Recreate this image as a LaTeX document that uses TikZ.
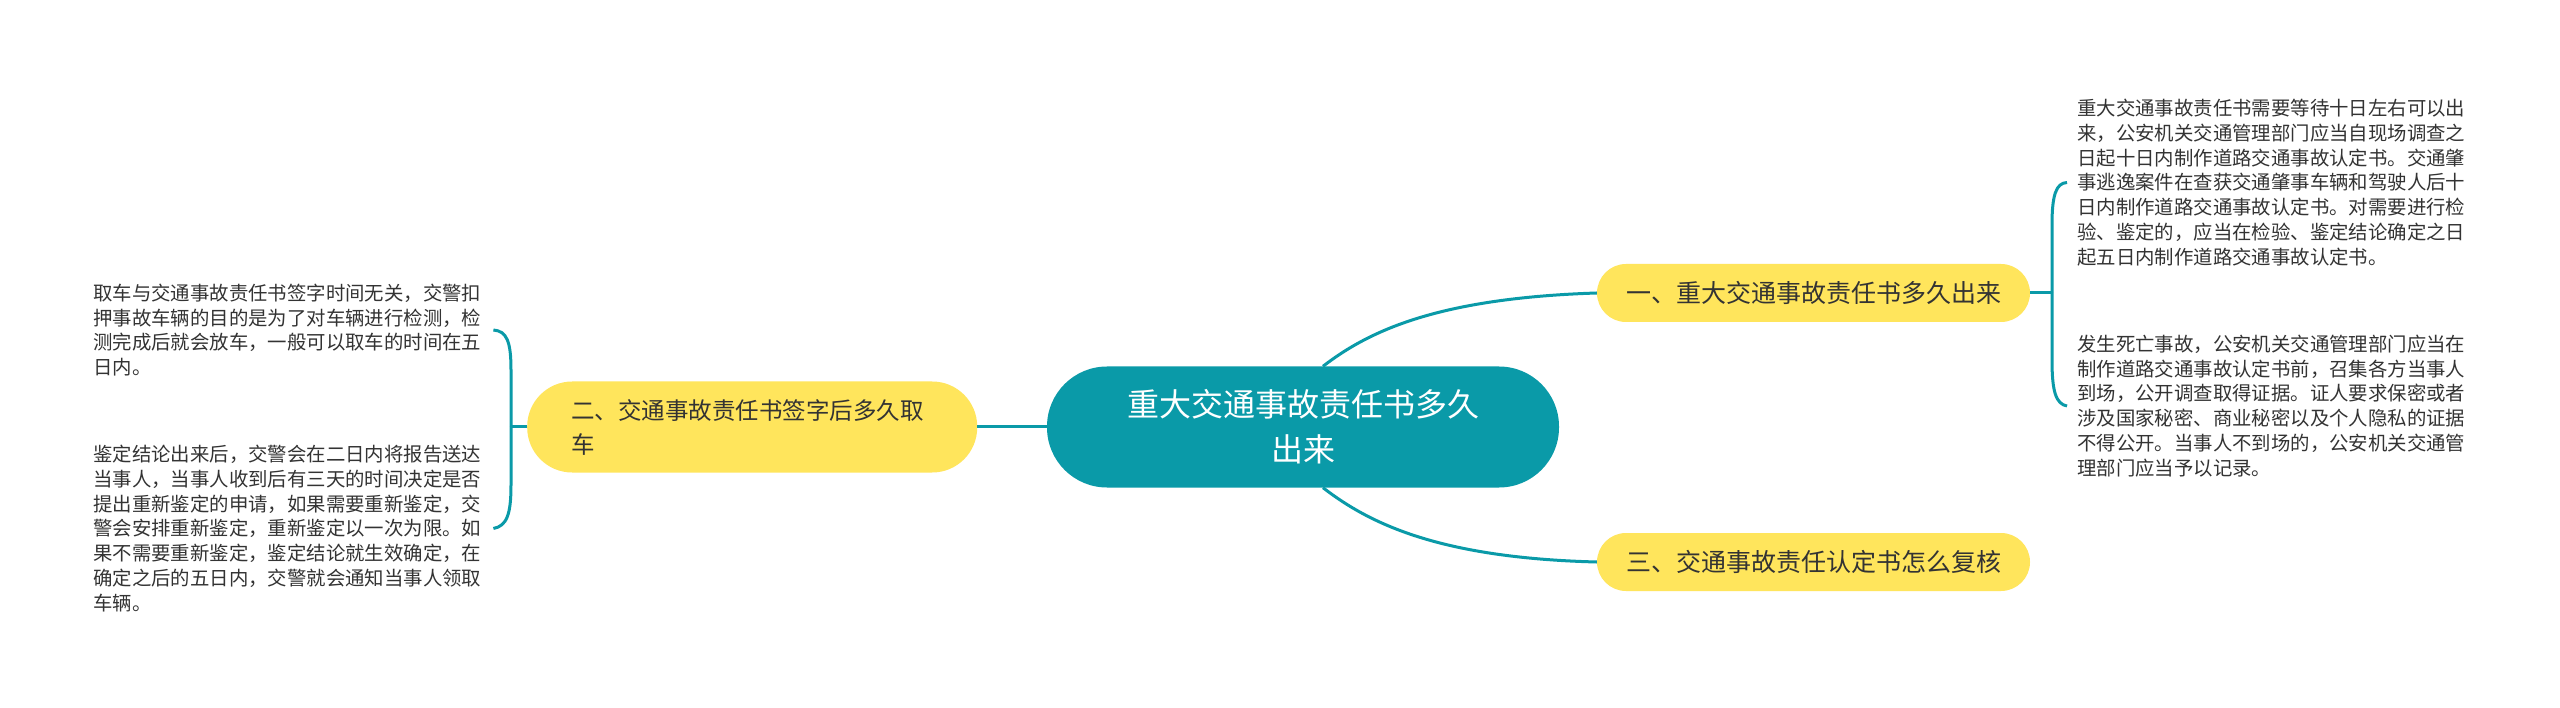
\documentclass[tikz,border=0pt]{standalone}
\usepackage{fontspec}
\newfontfamily\cjk{Noto Sans CJK SC}
\definecolor{teal0}{HTML}{0A9AA8}
\definecolor{yel}{HTML}{FFE55C}
\definecolor{txt}{HTML}{333333}
\begin{document}
\begin{tikzpicture}[x=1pt,y=-1pt,
 conn/.style={draw=teal0,line width=3pt},
 rootbox/.style={fill=teal0,rounded corners=60pt,minimum width=512pt,minimum height=121pt,text=white,align=center,font=\cjk\fontsize{32}{45}\selectfont,inner sep=0},
 subbox/.style={fill=yel,rounded corners=29pt,minimum height=58pt,minimum width=433pt,text=txt,font=\cjk\fontsize{25}{34}\selectfont,inner sep=0},
 subboxtwo/.style={fill=yel,rounded corners=45pt,minimum height=91pt,minimum width=450pt,text=txt,align=left,text width=362pt,inner xsep=44pt,inner ysep=0pt,font=\cjk\fontsize{23.5}{34}\selectfont},
 leaf/.style={text=txt,align=left,inner sep=0,font=\cjk\fontsize{19.4}{24.8}\selectfont}]
\fill[white] (0,0) rectangle (2560,708);
\useasboundingbox (0,0) rectangle (2560,708);

\node[rootbox] (c) at (1303,427) {重大交通事故责任书多久\\出来};
\node[subbox] (n1) at (1813.5,293) {一、重大交通事故责任书多久出来};
\node[subbox] (n3) at (1813.5,562) {三、交通事故责任认定书怎么复核};
\node[subboxtwo,anchor=west] (n2) at (527,427) {二、交通事故责任书签字后多久取\\车};

\node[leaf,anchor=west] (r1) at (2077,182.5) {重大交通事故责任书需要等待十日左右可以出\\来，公安机关交通管理部门应当自现场调查之\\日起十日内制作道路交通事故认定书。交通肇\\事逃逸案件在查获交通肇事车辆和驾驶人后十\\日内制作道路交通事故认定书。对需要进行检\\验、鉴定的，应当在检验、鉴定结论确定之日\\起五日内制作道路交通事故认定书。};
\node[leaf,anchor=west] (r2) at (2077,406) {发生死亡事故，公安机关交通管理部门应当在\\制作道路交通事故认定书前，召集各方当事人\\到场，公开调查取得证据。证人要求保密或者\\涉及国家秘密、商业秘密以及个人隐私的证据\\不得公开。当事人不到场的，公安机关交通管\\理部门应当予以记录。};
\node[leaf,anchor=west] (l1) at (93,330) {取车与交通事故责任书签字时间无关，交警扣\\押事故车辆的目的是为了对车辆进行检测，检\\测完成后就会放车，一般可以取车的时间在五\\日内。};
\node[leaf,anchor=west] (l2) at (93,528.5) {鉴定结论出来后，交警会在二日内将报告送达\\当事人，当事人收到后有三天的时间决定是否\\提出重新鉴定的申请，如果需要重新鉴定，交\\警会安排重新鉴定，重新鉴定以一次为限。如\\果不需要重新鉴定，鉴定结论就生效确定，在\\确定之后的五日内，交警就会通知当事人领取\\车辆。};

% root connectors
\draw[conn] (c.west) -- (n2.east);
\draw[conn] ([xshift=20pt]c.north) .. controls (1370,330) and (1440,298) .. (n1.west);
\draw[conn] ([xshift=20pt]c.south) .. controls (1370,524) and (1440,558) .. (n3.west);

% right bracket
\coordinate (b1) at (2052,293);
\draw[conn] (n1.east) -- (b1);
\draw[conn] (b1) -- (2052,225) .. controls (2052,195) and (2056,183) .. ([xshift=-10pt]r1.west);
\draw[conn] (b1) -- (2052,360) .. controls (2052,392) and (2056,404) .. ([xshift=-10pt]r2.west);

% left bracket
\coordinate (b2) at (511,427);
\draw[conn] (n2.west) -- (b2);
\draw[conn] (b2) -- (511,370) .. controls (511,342) and (507,331) .. ([xshift=12pt]l1.east);
\draw[conn] (b2) -- (511,485) .. controls (511,514) and (507,526) .. ([xshift=12pt]l2.east);
\end{tikzpicture}
\end{document}
